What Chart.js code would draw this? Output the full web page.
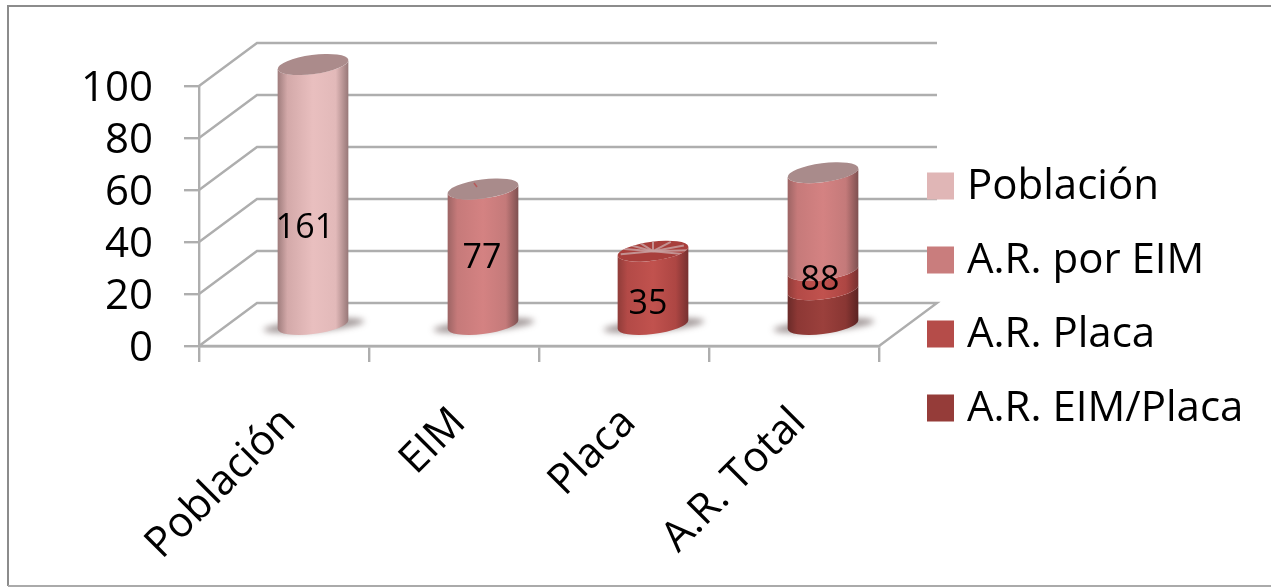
<!DOCTYPE html>
<html lang="es">
<head>
<meta charset="utf-8">
<title>Población y A.R.</title>
<script src="https://cdn.jsdelivr.net/npm/chart.js@4"></script>
<style>
  html, body { margin: 0; padding: 0; background: #fff; }
  #wrap { position: absolute; left: 0; top: 0; width: 1271px; height: 587px; }
</style>
</head>
<body>
<div id="wrap"><canvas id="c" width="1271" height="587"></canvas></div>
<script>
// Categories and series
const categories = ['Población', 'EIM', 'Placa', 'A.R. Total'];
const percentTicks = [0, 20, 40, 60, 80, 100];
const poblacion = [161, null, null, null];
const arPorEim = [null, 77, null, 66];
const arPlaca = [null, null, 35, 13];
const arEimPlaca = [null, null, null, 9];
const statedTotals = [161, 77, 35, 88];

const seriesNames = ['Población', 'A.R. por EIM', 'A.R. Placa', 'A.R. EIM/Placa'];

// Swatch colours and the shading of each cylinder wall
const swatch = { 'Población': '#e0b6b6', 'A.R. por EIM': '#c97d7d', 'A.R. Placa': '#b54c49', 'A.R. EIM/Placa': '#953c39' };
const wall = {
  'Población': ['#9e7c7c', '#d3a9a9', '#e9bfbf', '#e2b9b9', '#967777'],
  'A.R. por EIM': ['#9c6464', '#c67a7a', '#d48282', '#c47a7a', '#7d5050'],
  'A.R. Placa': ['#8f3c39', '#b34a47', '#c1524e', '#ad4643', '#763030'],
  'A.R. EIM/Placa': ['#692a28', '#8d3835', '#9b403c', '#893633', '#5a2322']
};
const wallStops = [0, 0.14, 0.5, 0.82, 1];
const capColour = { 'Población': '#ab8b8b', 'A.R. por EIM': '#a98b8b', 'A.R. Placa': '#a83f3c' };

const GRID = '#aeaeae';
const FONT = '"Open Sans", sans-serif';
const DEPTH_X = 58, DEPTH_Y = 43;           // depth of the 3D box
const TILT = -7.5 * Math.PI / 180, CAP_RY = 9.5;
const LABEL_NUDGE = [[-8, 34], [-1, 2], [-5, 16], [-3, 32]];   // text position relative to mid-cylinder

// Floor, back wall and side wall gridlines of the 3D box
const box3d = {
  id: 'box3d',
  beforeDatasetsDraw(chart) {
    const { ctx } = chart, y = chart.scales.y;
    const l = chart.chartArea.left, r = chart.chartArea.right;
    ctx.save();
    ctx.strokeStyle = GRID; ctx.lineWidth = 2.4; ctx.lineJoin = 'miter';
    percentTicks.forEach(v => {
      const p = y.getPixelForValue(v);
      ctx.beginPath();
      ctx.moveTo(l, p);
      ctx.lineTo(l + DEPTH_X, p - DEPTH_Y);
      ctx.lineTo(r + DEPTH_X, p - DEPTH_Y);
      if (v === 0) { ctx.lineTo(r, p); ctx.lineTo(l, p); }
      ctx.stroke();
    });
    ctx.restore();
  }
};

function ellipseTangent(rx) { return Math.atan((CAP_RY / rx) * Math.tan(-TILT)); }

// Each stacked bar is painted as a shaded cylinder standing mid-way on the floor
const cylinders = {
  id: 'cylinders',
  beforeDatasetsDraw(chart) {
    const { ctx } = chart, count = chart.scales.yCount;
    const floor = count.getPixelForValue(count.min);
    const dx = DEPTH_X / 2, dy = -DEPTH_Y / 2;
    categories.forEach((_, i) => {
      const segs = [];
      chart.data.datasets.forEach((d, di) => {
        if (d.data[i] == null) return;
        const b = chart.getDatasetMeta(di).data[i];
        segs.push({ name: d.label, x: b.x, top: b.y, width: b.width });
      });
      if (!segs.length) return;
      segs.sort((a, b) => b.top - a.top);
      const cx = segs[0].x + dx, rx = segs[0].width / 2 / Math.cos(TILT) - 0.2, half = segs[0].width / 2;
      const t0 = ellipseTangent(rx);
      const base = floor + dy;

      // soft contact shadow
      ctx.save();
      ctx.filter = 'blur(3px)';
      ctx.fillStyle = 'rgba(70,50,50,0.5)';
      ctx.beginPath();
      ctx.ellipse(cx + 1, base + 1, half + 15, 6, -5 * Math.PI / 180, 0, Math.PI * 2);
      ctx.fill();
      ctx.restore();

      let from = base;
      segs.forEach(s => {
        const to = s.top + dy;
        const g = ctx.createLinearGradient(cx - half, 0, cx + half, 0);
        wall[s.name].forEach((c, k) => g.addColorStop(wallStops[k], c));
        ctx.fillStyle = g;
        ctx.beginPath();
        ctx.ellipse(cx, from, rx, CAP_RY, TILT, t0, t0 + Math.PI);
        ctx.ellipse(cx, to, rx, CAP_RY, TILT, t0 + Math.PI, t0, true);
        ctx.closePath();
        ctx.fill();
        from = to;
      });

      // top cap
      const topSeg = segs[segs.length - 1];
      const capY = topSeg.top + dy;
      ctx.fillStyle = capColour[topSeg.name] || '#a98b8b';
      ctx.beginPath();
      ctx.ellipse(cx, capY, rx, CAP_RY, TILT, 0, Math.PI * 2);
      ctx.fill();
      if (i === 2) {               // radial flecks on the short red cylinder
        ctx.save();
        ctx.clip();
        ctx.strokeStyle = 'rgba(200,160,160,0.85)';
        ctx.lineWidth = 2;
        [-170, -140, -115, -90, -60, -30, 0, 25, 155].forEach(a => {
          const r = a * Math.PI / 180;
          ctx.beginPath();
          ctx.moveTo(cx, capY);
          ctx.lineTo(cx + Math.cos(r) * rx, capY + Math.sin(r) * CAP_RY - 1);
          ctx.stroke();
        });
        ctx.restore();
      }
      if (i === 1) {               // small nick in the rim of the EIM cap
        ctx.strokeStyle = '#b85a5a';
        ctx.lineWidth = 1.5;
        ctx.beginPath();
        ctx.moveTo(cx - 9, capY - 6);
        ctx.lineTo(cx - 6, capY - 2);
        ctx.stroke();
      }

      // value stated on the cylinder
      ctx.fillStyle = '#000';
      ctx.font = '34px ' + FONT;
      ctx.textAlign = 'center';
      ctx.textBaseline = 'middle';
      ctx.fillText(String(statedTotals[i]), cx + LABEL_NUDGE[i][0], (topSeg.top + floor) / 2 + dy + LABEL_NUDGE[i][1]);
    });
  },
  beforeDatasetDraw() { return false; }
};

// Legend column to the right of the box
const legendColumn = {
  id: 'legendColumn',
  afterDraw(chart) {
    const { ctx } = chart;
    ctx.save();
    ctx.font = '42px ' + FONT;
    ctx.textBaseline = 'middle';
    ctx.textAlign = 'left';
    seriesNames.forEach((name, i) => {
      const y = 186 + i * 74;
      ctx.fillStyle = swatch[name];
      ctx.fillRect(927, y - 13.5, 27, 27);
      ctx.fillStyle = '#000';
      ctx.fillText(name, 967, y + 1);
    });
    ctx.restore();
  }
};

// Outer frame of the chart: heavier on top and left, lighter below
const frame = {
  id: 'frame',
  beforeDraw(chart) {
    const { ctx } = chart;
    ctx.save();
    ctx.lineWidth = 2;
    ctx.strokeStyle = '#8c8c8c';
    ctx.beginPath();
    ctx.moveTo(1271, 6);
    ctx.lineTo(8, 6);
    ctx.lineTo(8, 586);
    ctx.stroke();
    ctx.strokeStyle = '#aaaaaa';
    ctx.beginPath();
    ctx.moveTo(8, 586);
    ctx.lineTo(1271, 586);
    ctx.stroke();
    ctx.restore();
  }
};

new Chart(document.getElementById('c'), {
  type: 'bar',
  data: {
    labels: categories,
    datasets: [
      { label: 'A.R. EIM/Placa', data: arEimPlaca, backgroundColor: swatch['A.R. EIM/Placa'], yAxisID: 'yCount' },
      { label: 'A.R. Placa', data: arPlaca, backgroundColor: swatch['A.R. Placa'], yAxisID: 'yCount' },
      { label: 'A.R. por EIM', data: arPorEim, backgroundColor: swatch['A.R. por EIM'], yAxisID: 'yCount' },
      { label: 'Población', data: poblacion, backgroundColor: swatch['Población'], yAxisID: 'yCount' }
    ]
  },
  options: {
    responsive: false,
    animation: false,
    events: [],
    layout: { padding: { top: 86, right: 392, left: 0, bottom: 0 } },
    datasets: { bar: { barPercentage: 0.418, categoryPercentage: 1 } },
    plugins: { legend: { display: false }, tooltip: { enabled: false } },
    scales: {
      x: {
        stacked: true,
        afterFit(s) { s.height = 241; },
        grid: { offset: true, drawOnChartArea: false, color: GRID, lineWidth: 2.4, tickLength: 16 },
        border: { color: GRID, width: 2.4 },
        ticks: {
          autoSkip: false, minRotation: 45, maxRotation: 45, color: '#000', padding: 36, labelOffset: 5,
          font: { family: '"Open Sans", sans-serif', size: 42 }
        }
      },
      y: {
        position: 'left',
        min: 0, max: 100,
        afterFit(s) { s.width = 199; },
        grid: { drawOnChartArea: false, color: GRID, lineWidth: 2.4, tickLength: 15 },
        border: { color: GRID, width: 2.4 },
        ticks: {
          autoSkip: false, stepSize: 20, color: '#000', padding: 31, labelOffset: 3,
          font: { family: '"Open Sans", sans-serif', size: 42 }
        }
      },
      // counts share the plot height with the percent axis and stay hidden
      yCount: { display: false, stacked: true, min: -14.5, max: 161 }
    }
  },
  plugins: [frame, box3d, cylinders, legendColumn]
});
</script>
</body>
</html>
